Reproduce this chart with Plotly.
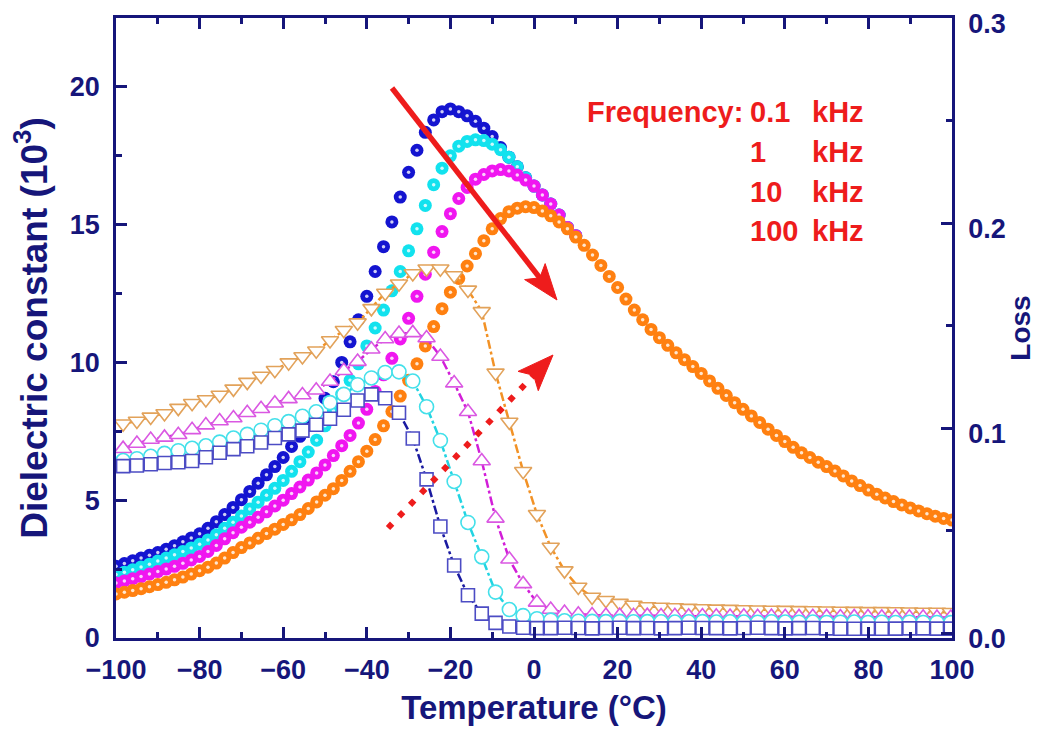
import plotly.graph_objects as go

# ---------------- data ----------------
T_eps = [-100, -98, -96, -94, -92, -90, -88, -86, -84, -82, -80, -78, -76, -74, -72, -70,
         -68, -66, -64, -62, -60, -58, -56, -54, -52, -50, -48, -46, -44, -42, -40, -38,
         -36, -34, -32, -30, -28, -26, -24, -22, -20, -18, -16, -14, -12, -10, -8, -6,
         -4, -2, 0, 2, 4, 6, 8, 10, 12, 14, 16, 18, 20, 22, 24, 26, 28, 30, 32, 34, 36,
         38, 40, 42, 44, 46, 48, 50, 52, 54, 56, 58, 60, 62, 64, 66, 68, 70, 72, 74, 76,
         78, 80, 82, 84, 86, 88, 90, 92, 94, 96, 98, 100]

eps_0p1k = [2.60, 2.70, 2.80, 2.90, 3.00, 3.10, 3.22, 3.35, 3.49, 3.63, 3.78, 3.98, 4.22, 4.48,
            4.74, 5.02, 5.32, 5.62, 5.92, 6.22, 6.55, 6.95, 7.32, 7.72, 8.20, 8.70, 9.30, 10.00,
            10.75, 11.55, 12.40, 13.30, 14.20, 15.10, 16.00, 16.90, 17.70, 18.35, 18.80, 19.10,
            19.20, 19.10, 18.95, 18.75, 18.50, 18.20, 17.80, 17.45, 17.10, 16.70, 16.40, 16.08,
            15.75, 15.35, 14.90, 14.60]
eps_1k = [2.30, 2.39, 2.48, 2.58, 2.68, 2.79, 2.90, 3.02, 3.14, 3.27, 3.40, 3.56, 3.75, 3.98,
          4.20, 4.43, 4.68, 4.93, 5.18, 5.43, 5.72, 6.05, 6.40, 6.75, 7.18, 7.70, 8.25, 8.85,
          9.35, 9.95, 10.60, 11.25, 11.90, 12.60, 13.30, 14.05, 14.85, 15.70, 16.45, 17.05,
          17.50, 17.85, 18.02, 18.08, 18.05, 17.92, 17.72, 17.45, 17.10, 16.70, 16.40, 16.08,
          15.75, 15.35, 14.90, 14.60]
eps_10k = [2.00, 2.07, 2.15, 2.23, 2.32, 2.41, 2.50, 2.60, 2.71, 2.83, 2.96, 3.14, 3.36, 3.60,
           3.82, 4.02, 4.20, 4.38, 4.58, 4.79, 5.00, 5.24, 5.48, 5.73, 5.99, 6.28, 6.62, 6.98,
           7.35, 7.80, 8.30, 8.95, 9.55, 10.15, 10.85, 11.60, 12.40, 13.20, 14.00, 14.75,
           15.40, 15.95, 16.35, 16.65, 16.82, 16.95, 17.00, 16.95, 16.80, 16.62, 16.40, 16.08,
           15.75, 15.35, 14.90, 14.60]
eps_100k = [1.60, 1.66, 1.72, 1.79, 1.86, 1.94, 2.02, 2.11, 2.21, 2.32, 2.44, 2.57, 2.72, 2.90,
            3.10, 3.28, 3.45, 3.62, 3.79, 3.95, 4.12, 4.29, 4.48, 4.70, 4.94, 5.18, 5.42, 5.72,
            6.05, 6.40, 6.78, 7.20, 7.70, 8.22, 8.78, 9.35, 9.95, 10.60, 11.30, 11.95, 12.55,
            13.05, 13.50, 13.95, 14.42, 14.85, 15.22, 15.47, 15.60, 15.65, 15.62, 15.50, 15.32,
            15.10, 14.85, 14.55, 14.25, 13.90, 13.52, 13.12, 12.72, 12.30, 11.90, 11.55, 11.20,
            10.90, 10.62, 10.35, 10.10, 9.85, 9.60, 9.33, 9.06, 8.80, 8.54, 8.30, 8.06, 7.82,
            7.58, 7.35, 7.13, 6.92, 6.72, 6.55, 6.38, 6.22, 6.06, 5.88, 5.70, 5.53, 5.37, 5.22,
            5.08, 4.95, 4.83, 4.72, 4.61, 4.51, 4.42, 4.34, 4.28]

T_loss = [-98.3, -95.0, -91.7, -88.4, -85.1, -81.8, -78.5, -75.2, -71.9, -68.6, -65.3, -62.0,
          -58.7, -55.4, -52.1, -48.8, -45.5, -42.2, -38.9, -35.6, -32.3, -29.0, -25.7, -22.4,
          -19.1, -15.8, -12.5, -9.2, -5.9, -2.6, 0.7, 4.0, 7.3, 10.6, 13.9, 17.2, 20.5, 23.8,
          27.1, 30.4, 33.7, 37.0, 40.3, 43.6, 46.9, 50.2, 53.5, 56.8, 60.1, 63.4, 66.7, 70.0,
          73.3, 76.6, 79.9, 83.2, 86.5, 89.8, 93.1, 96.4, 99.7]

loss_0p1k = [0.0815, 0.0818, 0.0824, 0.0830, 0.0834, 0.0840, 0.0858, 0.0880, 0.0898, 0.0912,
             0.0930, 0.0952, 0.0970, 0.0988, 0.1017, 0.1046, 0.1090, 0.1135, 0.1165, 0.1146,
             0.1075, 0.0950, 0.0750, 0.0520, 0.0330, 0.0185, 0.0095, 0.0050, 0.0032, 0.0026,
             0.0024, 0.0024, 0.0026, 0.0025, 0.0023, 0.0025, 0.0026, 0.0024, 0.0025, 0.0023,
             0.0024, 0.0026, 0.0025, 0.0024, 0.0023, 0.0025, 0.0026, 0.0024, 0.0023, 0.0024,
             0.0025, 0.0023, 0.0021, 0.0021, 0.0022, 0.0021, 0.0022, 0.0023, 0.0023, 0.0022,
             0.0022]
loss_1k = [0.0842, 0.0851, 0.0863, 0.0877, 0.0890, 0.0902, 0.0914, 0.0932, 0.0952, 0.0970,
           0.0990, 0.1012, 0.1032, 0.1058, 0.1080, 0.1125, 0.1165, 0.1212, 0.1245, 0.1272,
           0.1275, 0.1230, 0.1105, 0.0940, 0.0740, 0.0540, 0.0372, 0.0200, 0.0115, 0.0085,
           0.0070, 0.0063, 0.0060, 0.0058, 0.0057, 0.0056, 0.0057, 0.0055, 0.0056, 0.0055,
           0.0054, 0.0055, 0.0056, 0.0054, 0.0055, 0.0054, 0.0053, 0.0055, 0.0054, 0.0053,
           0.0054, 0.0052, 0.0053, 0.0054, 0.0052, 0.0053, 0.0052, 0.0053, 0.0052, 0.0052,
           0.0051]
loss_10k = [0.0900, 0.0925, 0.0945, 0.0955, 0.0968, 0.0992, 0.1015, 0.1035, 0.1050, 0.1075,
            0.1095, 0.1122, 0.1143, 0.1162, 0.1185, 0.1228, 0.1280, 0.1325, 0.1385, 0.1435,
            0.1462, 0.1465, 0.1440, 0.1350, 0.1220, 0.1080, 0.0840, 0.0560, 0.0360, 0.0240,
            0.0150, 0.0115, 0.0100, 0.0092, 0.0088, 0.0086, 0.0085, 0.0084, 0.0085, 0.0083,
            0.0084, 0.0082, 0.0083, 0.0082, 0.0081, 0.0082, 0.0080, 0.0081, 0.0080, 0.0079,
            0.0080, 0.0079, 0.0078, 0.0079, 0.0078, 0.0077, 0.0078, 0.0077, 0.0077, 0.0076,
            0.0076]
loss_100k = [0.1022, 0.1035, 0.1055, 0.1072, 0.1098, 0.1122, 0.1140, 0.1162, 0.1192, 0.1225,
             0.1255, 0.1283, 0.1320, 0.1350, 0.1378, 0.1428, 0.1478, 0.1515, 0.1585, 0.1660,
             0.1705, 0.1755, 0.1778, 0.1778, 0.1745, 0.1675, 0.1570, 0.1270, 0.1030, 0.0790,
             0.0580, 0.0420, 0.0305, 0.0225, 0.0176, 0.0160, 0.0146, 0.0137, 0.0130, 0.0127,
             0.0125, 0.0122, 0.0120, 0.0118, 0.0117, 0.0115, 0.0114, 0.0113, 0.0112, 0.0111,
             0.0110, 0.0109, 0.0108, 0.0107, 0.0106, 0.0106, 0.0105, 0.0104, 0.0103, 0.0103,
             0.0102]

x_ticks = [-100, -80, -60, -40, -20, 0, 20, 40, 60, 80, 100]
y_ticks = [0, 5, 10, 15, 20]
y2_ticks = [0.0, 0.1, 0.2, 0.3]
freq_values = ["0.1", "1", "10", "100"]
freq_label = "Frequency:"
unit = "kHz"

# ---------------- styling ----------------
AX = "#16167a"
FONT = "Liberation Sans, Arial, sans-serif"
RED = "#ee1c1c"
OFF = 8  # page body margin of the browser
W, H = 1050 - OFF, 744 - OFF
L, T = 116 - OFF, 18 - OFF
PW, PH = 836, 620
R, B = W - L - PW, H - T - PH
XR = [-100, 100]
YR = [0, 22.5]
Y2R = [-0.0024, 0.3002]

sphere_colors = ["#1414d0", "#12e2ee", "#f016f0", "#ff8010"]
loss_line_colors = ["#1a1aa0", "#22d4e2", "#d21ed8", "#f29226"]
loss_mark_colors = ["#4c4cc4", "#44e0ea", "#da58e2", "#e2a25a"]
loss_symbols = ["square", "circle", "triangle-up", "triangle-down"]
loss_sizes = [13, 14, 15, 15]

fig = go.Figure()

eps_sets = [eps_0p1k, eps_1k, eps_10k, eps_100k]
for vals, col in zip(eps_sets, sphere_colors):
    xs = T_eps[:len(vals)]
    fig.add_trace(go.Scatter(x=xs, y=vals, mode="markers",
                             marker=dict(size=13, color=col, line=dict(width=0)),
                             showlegend=False, hoverinfo="skip"))
    fig.add_trace(go.Scatter(x=xs, y=vals, mode="markers",
                             marker=dict(size=3.5, color="rgba(255,255,255,0.8)", line=dict(width=0)),
                             showlegend=False, hoverinfo="skip"))

loss_sets = [loss_0p1k, loss_1k, loss_10k, loss_100k]
for i in [3, 2, 1, 0]:
    fig.add_trace(go.Scatter(x=T_loss, y=loss_sets[i], yaxis="y2", mode="lines+markers",
                             line=dict(color=loss_line_colors[i], width=2.5, dash="dashdot"),
                             marker=dict(symbol=loss_symbols[i], size=loss_sizes[i], color="white",
                                         line=dict(color=loss_mark_colors[i], width=1.6)),
                             showlegend=False, hoverinfo="skip"))


# ---------------- arrows (decoration; screen pixel geometry) ----------------
def d2p(x, y):
    return (L + OFF + (x - XR[0]) / (XR[1] - XR[0]) * PW,
            T + OFF + PH - (y - YR[0]) / (YR[1] - YR[0]) * PH)


def p2d(px, py):
    return (XR[0] + (px - L - OFF) / PW * (XR[1] - XR[0]),
            YR[0] + (T + OFF + PH - py) / PH * (YR[1] - YR[0]))


def arrow(tail, tip, dash=None, width=5, head_len=34, head_hw=12):
    tx, ty = d2p(*tail)
    hx, hy = d2p(*tip)
    dx, dy = hx - tx, hy - ty
    n = (dx * dx + dy * dy) ** 0.5
    ux, uy = dx / n, dy / n
    nx, ny = -uy, ux
    bx, by = hx - head_len * ux, hy - head_len * uy
    notch = (hx - 0.78 * head_len * ux, hy - 0.78 * head_len * uy)
    p_left = p2d(bx + head_hw * nx, by + head_hw * ny)
    p_right = p2d(bx - head_hw * nx, by - head_hw * ny)
    p_notch = p2d(*notch)
    end = p2d(hx - 0.7 * head_len * ux, hy - 0.7 * head_len * uy)
    line = dict(color=RED, width=width)
    if dash:
        line["dash"] = dash
    fig.add_shape(type="line", xref="x", yref="y", x0=tail[0], y0=tail[1], x1=end[0], y1=end[1],
                  line=line)
    path = (f"M {tip[0]},{tip[1]} L {p_left[0]},{p_left[1]} L {p_notch[0]},{p_notch[1]} "
            f"L {p_right[0]},{p_right[1]} Z")
    fig.add_shape(type="path", xref="x", yref="y", path=path, fillcolor=RED,
                  line=dict(color=RED, width=1))


arrow(p2d(392, 88), p2d(557, 300), width=5.5, head_len=36, head_hw=13)
arrow(p2d(388, 528), p2d(553, 355), dash="6px,10px", width=6, head_len=36, head_hw=14)


# ---------------- frequency text ----------------
def px_x(px):
    return (px - OFF - L) / PW


def px_y(py):
    return (T + OFF + PH - py) / PH


rows_y = [112, 152, 192, 231]
redfont = dict(family=FONT, size=29, color=RED, weight="bold")
fig.add_annotation(xref="paper", yref="paper", x=px_x(745), y=px_y(rows_y[0]), text=freq_label,
                   showarrow=False, xanchor="right", yanchor="middle", font=redfont)
for ry, fv in zip(rows_y, freq_values):
    fig.add_annotation(xref="paper", yref="paper", x=px_x(748), y=px_y(ry), text=fv,
                       showarrow=False, xanchor="left", yanchor="middle", font=redfont)
    fig.add_annotation(xref="paper", yref="paper", x=px_x(810), y=px_y(ry), text=unit,
                       showarrow=False, xanchor="left", yanchor="middle", font=redfont)

tickfont = dict(family=FONT, size=27, color=AX, weight="bold")
fig.update_layout(
    width=W, height=H, margin=dict(l=L, r=R, t=T, b=B, autoexpand=False),
    paper_bgcolor="white", plot_bgcolor="white", showlegend=False,
    xaxis=dict(range=XR, tickvals=x_ticks, ticks="inside", ticklen=11, tickwidth=2.5,
               tickcolor=AX, showline=True, linecolor=AX, linewidth=2.5, mirror="ticks",
               showgrid=False, zeroline=False, tickfont=tickfont, ticklabelstandoff=6,
               automargin=False, ticklabeloverflow="allow",
               minor=dict(dtick=10, ticks="inside", ticklen=6, tickwidth=2.5, tickcolor=AX,
                          showgrid=False),
               title=dict(text="Temperature (°C)", standoff=12,
                          font=dict(family=FONT, size=33, color=AX, weight="bold"))),
    yaxis=dict(range=YR, tickvals=y_ticks, ticks="inside", ticklen=11, tickwidth=2.5,
               tickcolor=AX, showline=True, linecolor=AX, linewidth=2.5, mirror=False,
               showgrid=False, zeroline=False, tickfont=tickfont, ticklabelstandoff=8,
               automargin=False, ticklabeloverflow="allow",
               minor=dict(dtick=2.5, ticks="inside", ticklen=6, tickwidth=2.5, tickcolor=AX,
                          showgrid=False),
               title=dict(text="Dielectric constant (10<sup>3</sup>)", standoff=14,
                          font=dict(family=FONT, size=37, color=AX, weight="bold"))),
    yaxis2=dict(range=Y2R, tickvals=y2_ticks, tickformat=".1f", overlaying="y", side="right",
                ticks="inside", ticklen=11, tickwidth=2.5, tickcolor=AX, showline=True,
                linecolor=AX, linewidth=2.5, showgrid=False, zeroline=False, tickfont=tickfont,
                ticklabelstandoff=8, ticklabelshift=5, automargin=False,
                ticklabeloverflow="allow",
                minor=dict(dtick=0.05, tick0=0, ticks="inside", ticklen=6, tickwidth=2.5,
                           tickcolor=AX, showgrid=False),
                title=dict(text="Loss", standoff=6,
                           font=dict(family=FONT, size=28, color=AX, weight="bold"))),
)

fig.write_html("out.html")
